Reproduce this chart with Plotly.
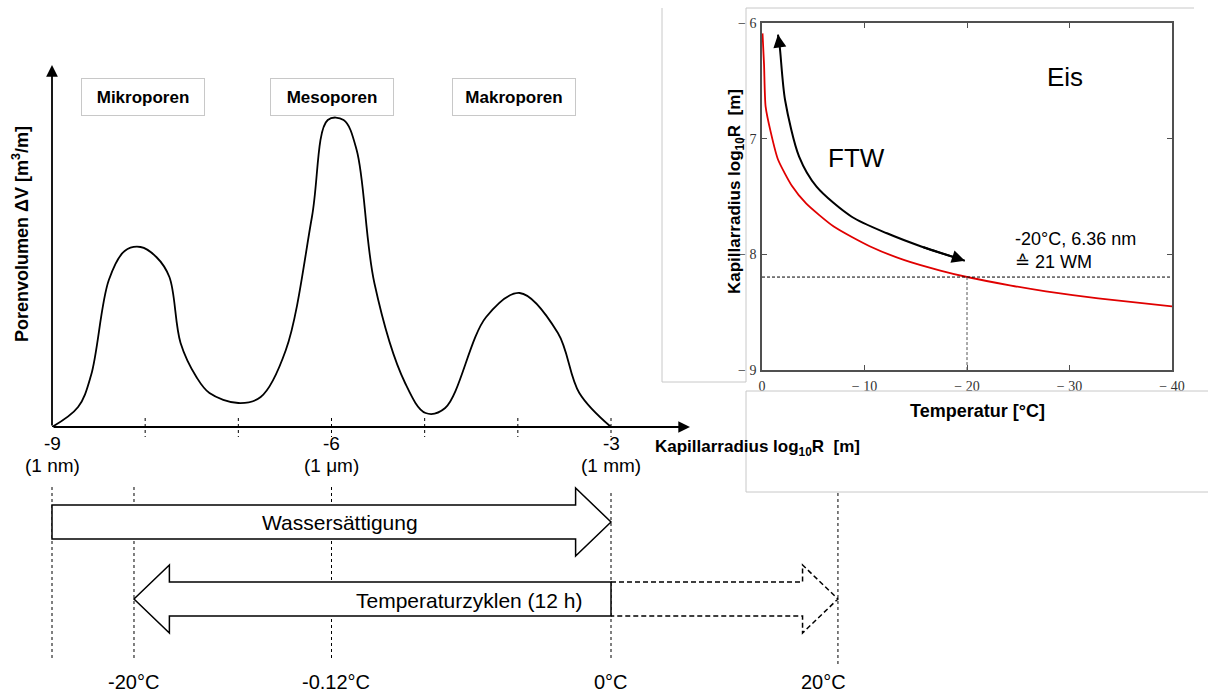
import plotly.graph_objects as go

W, H = 1208, 695

# ---------------- data ----------------
# Pore volume distribution over capillary radius (log10 R [m])
pore_logr = [-9.0, -8.72, -8.58, -8.39, -8.22, -8.05, -7.88, -7.74, -7.62, -7.45, -7.31,
             -7.0, -6.76, -6.49, -6.21, -6.04, -5.87, -5.73, -5.54, -5.21, -4.99,
             -4.78, -4.34, -3.98, -3.57, -3.34, -3.0]
pore_vol = [0.0, 2.0, 5.2, 14.7, 17.6, 18.0, 17.0, 15.0, 8.4, 5.0, 3.4,
            2.4, 3.0, 7.7, 21.0, 30.7, 30.7, 27.7, 14.4, 4.4, 1.4,
            1.9, 11.0, 13.4, 9.4, 3.4, 0.0]
pore_ticks = [-9, -6, -3]
pore_tick_num = ["-9", "-6", "-3"]
pore_tick_unit = ["(1 nm)", "(1 \u03bcm)", "(1 mm)"]
pore_minor = [-8, -7, -6, -5, -4, -3]
pore_classes = ["Mikroporen", "Mesoporen", "Makroporen"]
pore_class_pos = [-8.02, -6.0, -4.04]

# Freezing curve: capillary radius vs. temperature
ice_temp = [-0.05, -0.2, -0.35, -0.87, -1.56, -2.93, -4.3, -7.0, -10.5, -13.9,
            -17.4, -20.0, -24.3, -27.7, -32.8, -40.0]
ice_logr = [-6.09, -6.36, -6.72, -6.95, -7.18, -7.41, -7.56, -7.76, -7.93, -8.05,
            -8.14, -8.196, -8.27, -8.32, -8.38, -8.45]
ice_xticks = [0, -10, -20, -30, -40]
ice_xtext = ["0", "\u2212 10", "\u2212 20", "\u2212 30", "\u2212 40"]
ice_yticks = [-6, -7, -8, -9]
ice_ytext = ["\u2212 6", "\u2212 7", "\u2212 8", "\u2212 9"]

# FTW path (drawn as a double-headed arrow)
ftw_temp = [-1.56, -1.73, -2.25, -3.62, -5.32, -8.75, -12.19, -15.6, -19.79]
ftw_logr = [-6.10, -6.205, -6.666, -7.156, -7.415, -7.675, -7.818, -7.934, -8.055]

# Reference point: -20 °C <-> 6.36 nm
ref_temp = -20.0
ref_logr = -8.1965

# Temperature scale below the distribution (positions on the log10 R axis)
cycle_labels = ["-20\u00b0C", "-0.12\u00b0C", "0\u00b0C", "20\u00b0C"]
cycle_logr = [-8.12, -6.0, -3.0, -0.564]

# ---------------- layout helpers ----------------
PXU = (611 - 52) / 6.0          # pixels per log10 unit on the left chart
X0 = -9.0 - 52 / PXU            # log value at left page edge
X1 = -9.0 + (W - 52) / PXU      # log value at right page edge

FONT = "Liberation Sans, Arial, sans-serif"
SERIF = "Liberation Serif, Times New Roman, serif"

fig = go.Figure()

# distribution curve
fig.add_trace(go.Scatter(
    x=pore_logr, y=pore_vol, mode="lines",
    line=dict(color="black", width=1.8, shape="spline", smoothing=1.0),
    xaxis="x", yaxis="y", hoverinfo="skip", showlegend=False))

# freezing curve
fig.add_trace(go.Scatter(
    x=ice_temp, y=ice_logr, mode="lines",
    line=dict(color="#e00000", width=1.8, shape="spline", smoothing=0.6),
    xaxis="x2", yaxis="y2", hoverinfo="skip", showlegend=False))

# reference dashed lines
fig.add_trace(go.Scatter(
    x=[0, -40], y=[ref_logr, ref_logr], mode="lines",
    line=dict(color="black", width=1, dash="3px,2px"),
    xaxis="x2", yaxis="y2", hoverinfo="skip", showlegend=False))
fig.add_trace(go.Scatter(
    x=[ref_temp, ref_temp], y=[ref_logr, -9], mode="lines",
    line=dict(color="#555", width=1, dash="3px,2px"),
    xaxis="x2", yaxis="y2", hoverinfo="skip", showlegend=False))

# FTW arrow shaft
fig.add_trace(go.Scatter(
    x=ftw_temp, y=ftw_logr, mode="lines",
    line=dict(color="black", width=2, shape="spline", smoothing=0.8),
    xaxis="x2", yaxis="y2", hoverinfo="skip", showlegend=False))

annotations = []
shapes = []

# FTW arrow heads
for head, tail in ((0, 1), (-1, -2)):
    annotations.append(dict(
        x=ftw_temp[head], y=ftw_logr[head], ax=ftw_temp[tail], ay=ftw_logr[tail],
        xref="x2", yref="y2", axref="x2", ayref="y2", text="",
        showarrow=True, arrowhead=2, arrowsize=1.3, arrowwidth=2, arrowcolor="black"))

# left chart axis arrows
annotations.append(dict(x=690, y=427, ax=52, ay=427, xref="x4", yref="y3", axref="x4", ayref="y3",
                        text="", showarrow=True, arrowhead=2, arrowsize=1.3, arrowwidth=1.8,
                        arrowcolor="black"))
annotations.append(dict(x=52, y=65, ax=52, ay=427, xref="x4", yref="y3", axref="x4", ayref="y3",
                        text="", showarrow=True, arrowhead=2, arrowsize=1.3, arrowwidth=1.8,
                        arrowcolor="black"))

# tick labels of the radius axis (value and unit on two rows)
for v, num, unit in zip(pore_ticks, pore_tick_num, pore_tick_unit):
    annotations.append(dict(x=v, y=443, xref="x3", yref="y3", text=num, showarrow=False,
                            font=dict(family=FONT, size=19, color="black")))
    annotations.append(dict(x=v, y=465, xref="x3", yref="y3", text=unit, showarrow=False,
                            font=dict(family=FONT, size=19, color="black")))

# axis titles of the left chart
annotations.append(dict(x=653, y=448, xref="x4", yref="y3", xanchor="left", yanchor="middle",
                        text="<b>Kapillarradius log<sub>10</sub>R&nbsp; [m]</b>", showarrow=False,
                        font=dict(family=FONT, size=17, color="black")))
annotations.append(dict(x=20, y=234, xref="x4", yref="y3", xanchor="center", yanchor="middle",
                        textangle=-90, text="<b>Porenvolumen \u0394V [m<sup>3</sup>/m]</b>",
                        showarrow=False, font=dict(family=FONT, size=18, color="black")))

# pore class boxes
for name, pos in zip(pore_classes, pore_class_pos):
    annotations.append(dict(x=pos, y=97, xref="x3", yref="y3", xanchor="center", yanchor="middle",
                            text="<b>" + name + "</b>", showarrow=False, width=120, height=34,
                            bordercolor="#c8c8c8", borderwidth=1, bgcolor="white",
                            font=dict(family=FONT, size=17, color="black")))

# dashed minor ticks on the radius axis
for v in pore_minor:
    shapes.append(dict(type="line", xref="x3", yref="y3", x0=v, x1=v, y0=418, y1=437,
                       line=dict(color="black", width=1, dash="3px,3px")))

# inset annotations
annotations.append(dict(x=-29.6, y=-6.47, xref="x2", yref="y2", text="Eis", showarrow=False,
                        font=dict(family=FONT, size=26, color="black")))
annotations.append(dict(x=-9.2, y=-7.17, xref="x2", yref="y2", text="FTW", showarrow=False,
                        font=dict(family=FONT, size=26, color="black")))
annotations.append(dict(x=-24.5, y=-7.965, xref="x2", yref="y2", xanchor="left", yanchor="middle",
                        text="-20\u00b0C, 6.36 nm<br>\u2259 21 WM", align="left", showarrow=False,
                        font=dict(family=FONT, size=18, color="black")))
annotations.append(dict(x=736, y=192, xref="x4", yref="y3", textangle=-90,
                        text="<b>Kapillarradius log<sub>10</sub>R&nbsp; [m]</b>", showarrow=False,
                        font=dict(family=FONT, size=17, color="black")))
annotations.append(dict(x=977, y=411, xref="x4", yref="y3",
                        text="<b>Temperatur [\u00b0C]</b>", showarrow=False,
                        font=dict(family=FONT, size=18, color="black")))

# light grey frames around the inset panels
frame = dict(color="#c8c8c8", width=1)
for (x0, y0, x1, y1) in [(662, 8, 662, 382), (662, 382, 746, 382), (746, 8, 746, 382),
                         (746, 8, 1194, 8), (746, 391, 1208, 391), (746, 391, 746, 492),
                         (746, 492, 1208, 492)]:
    shapes.append(dict(type="line", xref="x4", yref="y3", x0=x0, y0=y0, x1=x1, y1=y1, line=frame,
                       layer="below"))

# ---- saturation / temperature cycle diagram ----
HEAD = 0.38   # arrow head length in log units
vdash = dict(color="black", width=1, dash="3px,3px")
shapes.append(dict(type="line", xref="x3", yref="y3", x0=-9, x1=-9, y0=487, y1=660, line=vdash))
for v, top, bot in zip(cycle_logr, [487, 487, 493, 493], [660, 660, 660, 667]):
    shapes.append(dict(type="line", xref="x3", yref="y3", x0=v, x1=v, y0=top, y1=bot, line=vdash))

# Wassersättigung: from -9 to -3
hb = -3.0 - HEAD
shapes.append(dict(type="path", xref="x3", yref="y3",
                   path=f"M -9,505 L {hb},505 L {hb},488 L -3,522 L {hb},556 L {hb},539 L -9,539 Z",
                   fillcolor="white", line=dict(color="black", width=1.5), layer="above"))
annotations.append(dict(x=-5.91, y=522, xref="x3", yref="y3", text="Wassers\u00e4ttigung",
                        showarrow=False, font=dict(family=FONT, size=21, color="black")))

# Temperaturzyklen: solid towards cold side, dashed towards warm side
tip = cycle_logr[0]
hb = tip + HEAD
shapes.append(dict(type="path", xref="x3", yref="y3",
                   path=f"M -3,582 L {hb},582 L {hb},565 L {tip},599 L {hb},633 L {hb},616 L -3,616 Z",
                   fillcolor="white", line=dict(color="black", width=1.5), layer="above"))
tip = cycle_logr[3]
hb = tip - HEAD
shapes.append(dict(type="path", xref="x3", yref="y3",
                   path=f"M -3,582 L {hb},582 L {hb},565 L {tip},599 L {hb},633 L {hb},616 L -3,616",
                   line=dict(color="black", width=1.5, dash="5px,3px"), layer="above"))
annotations.append(dict(x=-4.52, y=600, xref="x3", yref="y3", text="Temperaturzyklen (12 h)",
                        showarrow=False, font=dict(family=FONT, size=21, color="black")))

label_shift = [0.0, 0.05, 0.0, -0.16]
for lab, v, s in zip(cycle_labels, cycle_logr, label_shift):
    annotations.append(dict(x=v + s, y=682, xref="x3", yref="y3", text=lab, showarrow=False,
                            font=dict(family=FONT, size=20, color="black")))

fig.update_layout(
    width=W, height=H, margin=dict(l=0, r=0, t=0, b=0, autoexpand=False),
    paper_bgcolor="white", plot_bgcolor="rgba(0,0,0,0)",
    showlegend=False,
    xaxis=dict(domain=[52 / W, 690 / W], range=[-9.0, -9.0 + 638 / PXU], showline=False,
               showgrid=False, zeroline=False, tickvals=pore_ticks, showticklabels=False,
               ticks="", automargin=False, fixedrange=True),
    yaxis=dict(domain=[1 - 427 / H, 1 - 65 / H], range=[0, (427 - 65) / 10.0], showline=False,
               showgrid=False, zeroline=False, showticklabels=False, fixedrange=True,
               automargin=False),
    xaxis2=dict(domain=[762 / W, 1172 / W], range=[0, -40], anchor="y2",
                showline=True, mirror="ticks", linecolor="#505050", linewidth=1.5,
                showgrid=False, zeroline=False, ticks="inside", ticklen=5, tickcolor="#505050",
                tickvals=ice_xticks, ticktext=ice_xtext, ticklabelstandoff=2, automargin=False,
                tickfont=dict(family=SERIF, size=14, color="#333")),
    yaxis2=dict(domain=[1 - 370 / H, 1 - 23 / H], range=[-9, -6], anchor="x2",
                showline=True, mirror="ticks", linecolor="#505050", linewidth=1.5,
                showgrid=False, zeroline=False, ticks="inside", ticklen=5, tickcolor="#505050",
                tickvals=ice_yticks, ticktext=ice_ytext, ticklabelstandoff=1, automargin=False,
                tickfont=dict(family=SERIF, size=14, color="#333")),
    xaxis3=dict(domain=[0, 1], range=[X0, X1], visible=False, anchor="y3", fixedrange=True,
                automargin=False),
    yaxis3=dict(domain=[0, 1], range=[H, 0], visible=False, anchor="x3", fixedrange=True,
                automargin=False),
    xaxis4=dict(domain=[0, 1], range=[0, W], visible=False, anchor="y3", fixedrange=True,
                automargin=False),
    annotations=annotations,
    shapes=shapes,
)

fig.write_html("out.html")
